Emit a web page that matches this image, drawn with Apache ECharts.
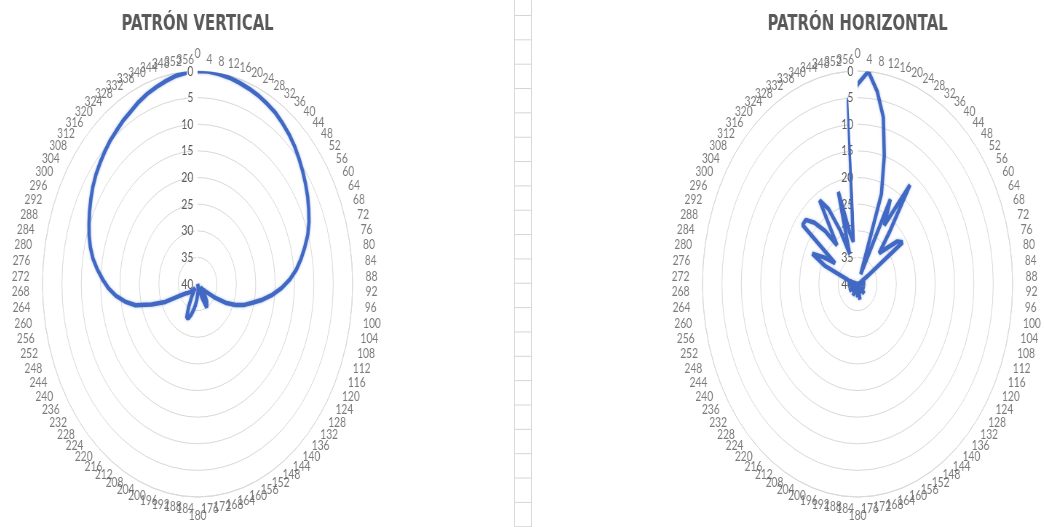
<!DOCTYPE html>
<html><head><meta charset="utf-8">
<script src="https://cdn.jsdelivr.net/npm/echarts@6/dist/echarts.min.js"></script>
<style>
html,body{margin:0;padding:0;background:#fff;width:1045px;height:527px;overflow:hidden;}
.chart{position:absolute;top:0;width:540px;height:527px;transform:scaleX(0.728);transform-origin:0 0;}
#cells{position:absolute;left:514px;top:0;width:16px;height:527px;border-left:1px solid #d9d9d9;border-right:1px solid #d9d9d9;
background-image:linear-gradient(to bottom,#d4d4d4 0,#d4d4d4 1px,transparent 1px);background-size:100% 24.35px;background-position:0 15px;}
</style></head>
<body>
<div id="cells"></div>
<div id="c1" class="chart" style="left:1.4px"></div>
<div id="c2" class="chart" style="left:661.4px"></div>
<script>
const angleLabels = ['0','4','8','12','16','20','24','28','32','36','40','44','48','52','56','60','64','68','72','76',
'80','84','88','92','96','100','104','108','112','116','120','124','128','132','136','140','144','148','152','156',
'160','164','168','172','176','180','184','188','192','196','200','204','208','212','216','220','224','228','232','236',
'240','244','248','252','256','260','264','268','272','276','280','284','288','292','296','300','304','308','312','316',
'320','324','328','332','336','340','344','348','352','356'];

const verticalPattern = [
0, 0, 0.2, 0.4, 0.7, 1.0, 1.3, 1.7, 2.1, 2.7,
3.3, 4.0, 4.8, 5.6, 6.4, 7.2, 8.1, 9.0, 10.1, 11.5,
12.9, 14.4, 16.2, 18.3, 20.6, 23.0, 25.4, 27.3, 29.5, 32.0,
35.0, 37.5, 38.5, 39.0, 38.0, 37.0, 36.0, 35.5, 35.0, 37.0,
39.5, 40, 39.5, 39.0, 38.5, 38.0, 37.0, 36.0, 35.0, 34.0,
33.2, 33.0, 35.0, 37.0, 38.5, 39.0, 38.5, 38.0, 37.5, 37.0,
36.5, 35.0, 31.0, 27.5, 23.5, 21.0, 18.8, 17.0, 15.5, 14.0,
12.6, 11.5, 10.6, 9.8, 9.0, 8.2, 7.4, 6.7, 6.1, 5.5,
4.9, 4.4, 3.8, 3.3, 2.6, 2.0, 1.5, 1.0, 0.5, 0.2];

const horizontalPattern = [
2.5, 0, 3.5, 8, 15, 22, 38, 22, 27, 17,
27, 32, 30, 27, 26, 37, 39, 38, 40, 38.5,
39, 40, 38, 39.5, 40, 38.5, 39, 40, 38, 39,
40, 38.5, 39.5, 40, 37.5, 39, 40, 38.5, 39, 40,
38, 39.5, 37, 39, 40, 37.5, 39, 40, 38.5, 39.5,
38, 40, 37.5, 39, 40, 38.5, 39.5, 38, 40, 39,
37.5, 39, 40, 38, 39.5, 38, 40, 37.5, 39, 38.5,
40, 38, 37, 31, 27, 30, 33, 22, 22, 24,
27, 31, 21.5, 24, 29, 34, 22, 30, 32, 5.5];

const radialMin = 0, radialMax = 40, radialStep = 5;
const RADIUS_PX = 213;
const SQUASH = 0.728;

function makeOption(title, values) {
  const pts = values.map((v, i) => [v, angleLabels[i]]);
  pts.push([values[0], angleLabels[0]]);
  // category labels sit on the outer ring, pushed outwards like Excel does
  const labelPts = angleLabels.map((a, i) => {
    const th = i * 2 * Math.PI / angleLabels.length;
    const s = Math.sin(th), c = Math.cos(th);
    const onAxis = Math.abs(s) < 1e-6;
    const dx = s * (13 + 3 * a.length) / SQUASH;
    const dy = -c * (onAxis ? 18 : 12);
    return {value: [radialMin, a], label: {offset: [dx, dy]}};
  });
  return {
    animation: false,
    backgroundColor: '#ffffff',
    title: {text: title, left: 'center', top: 9,
      textStyle: {fontFamily: 'DejaVu Sans', fontSize: 20.5, fontWeight: 'bold', color: '#595959'}},
    polar: {center: ['50%', 284], radius: RADIUS_PX},
    angleAxis: {type: 'category', data: angleLabels, startAngle: 90, clockwise: true, boundaryGap: false,
      axisLine: {show: true, lineStyle: {color: '#d9d9d9', width: 1}},
      axisTick: {show: false}, splitLine: {show: false}, axisLabel: {show: false}},
    radiusAxis: {type: 'value', min: radialMin, max: radialMax, interval: radialStep, inverse: true,
      axisLine: {show: false}, axisTick: {show: false},
      splitLine: {show: true, lineStyle: {color: '#d9d9d9', width: 1}},
      axisLabel: {fontSize: 14, color: '#595959', fontFamily: 'Lato', margin: 6}},
    series: [
      {type: 'line', coordinateSystem: 'polar', data: pts, symbol: 'none', smooth: false, z: 3,
        lineStyle: {color: '#4169c4', width: 4.5, shadowBlur: 3, shadowColor: 'rgba(65,105,196,0.45)'}},
      {type: 'scatter', coordinateSystem: 'polar', data: labelPts, clip: false, silent: true,
        symbolSize: 0.01, itemStyle: {color: 'transparent'},
        label: {show: true, position: 'inside', formatter: p => p.value[1],
          fontSize: 14, color: '#595959', fontFamily: 'Lato'}}
    ]
  };
}

echarts.init(document.getElementById('c1'), null, {renderer: 'canvas'}).setOption(makeOption('PATRÓN VERTICAL', verticalPattern));
echarts.init(document.getElementById('c2'), null, {renderer: 'canvas'}).setOption(makeOption('PATRÓN HORIZONTAL', horizontalPattern));
</script>
</body></html>
